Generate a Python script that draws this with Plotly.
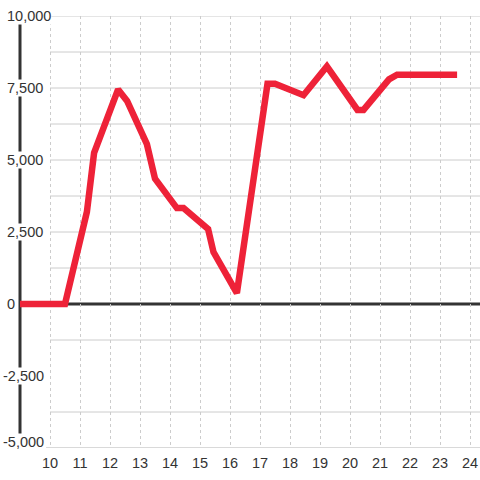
import plotly.graph_objects as go

x_vals = [9.0, 10.5, 11.23, 11.47, 12.27, 12.57, 13.23, 13.5, 14.23, 14.45, 15.27, 15.45,
          16.23, 17.25, 17.5, 18.33, 18.45, 19.23, 20.25, 20.45, 21.3, 21.57, 23.57]
y_vals = [0, 0, 3200, 5250, 7450, 7050, 5550, 4350, 3330, 3330, 2600, 1800,
          380, 7650, 7650, 7250, 7250, 8250, 6740, 6740, 7800, 7960, 7960]

x_ticks = list(range(10, 25))
y_ticks = [-5000, -2500, 0, 2500, 5000, 7500, 10000]
y_labels = ["-5,000", "-2,500", "0", "2,500", "5,000", "7,500", "10,000"]
y_grid = [-3750, -1250, 1250, 2500, 3750, 5000, 6250, 7500, 8750, 10000]

X_MIN, X_MAX = 9.0, 24.3333
Y_MIN, Y_MAX = -5000, 10000

FONT = "Liberation Sans, Arial, sans-serif"
TXT = "#333333"
GRID = "#cccccc"

fig = go.Figure()
fig.add_trace(go.Scatter(x=x_vals, y=y_vals, mode="lines",
                         line=dict(color="#ee2238", width=6.5),
                         hoverinfo="skip", showlegend=False))

shapes = []
for g in y_grid:
    shapes.append(dict(type="line", xref="x", yref="y", x0=10, x1=X_MAX, y0=g, y1=g,
                       line=dict(color=GRID, width=1), layer="below"))
# bottom line
shapes.append(dict(type="line", xref="x", yref="y", x0=9.87, x1=X_MAX, y0=Y_MIN, y1=Y_MIN,
                   line=dict(color=GRID, width=1.5), layer="below"))
# zero line
shapes.append(dict(type="line", xref="paper", yref="y", x0=0, x1=1, y0=0, y1=0,
                   line=dict(color=TXT, width=3), layer="below"))
# left axis line
shapes.append(dict(type="line", xref="paper", yref="y", x0=0, x1=0, y0=Y_MIN, y1=Y_MAX,
                   line=dict(color=TXT, width=3), layer="below"))

annotations = []
for v, lab in zip(y_ticks, y_labels):
    px = 2 if lab.startswith("-") else 6
    annotations.append(dict(
        xref="paper", yref="y", x=(px - 20) / 460.0, y=v, text=lab, showarrow=False,
        xanchor="left", yanchor="middle", yshift=6 if v == Y_MIN else 0,
        font=dict(family=FONT, size=14.5, color=TXT),
        bgcolor="white", borderpad=0))

fig.update_layout(
    width=480, height=480,
    margin=dict(l=20, r=0, t=16, b=32),
    paper_bgcolor="white", plot_bgcolor="white",
    shapes=shapes, annotations=annotations,
    xaxis=dict(range=[X_MIN, X_MAX], tickvals=x_ticks, ticktext=[str(t) for t in x_ticks],
               showgrid=True, gridcolor=GRID, griddash="3px,3px", gridwidth=1,
               zeroline=False, showline=False, ticks="", ticklabelstandoff=4,
               automargin=False,
               tickfont=dict(family=FONT, size=14.5, color=TXT)),
    yaxis=dict(range=[Y_MIN, Y_MAX], showgrid=False, zeroline=False, showline=False,
               showticklabels=False, ticks="", automargin=False),
)

fig.write_html("out.html", config={"displayModeBar": False},
               post_script="document.body.style.margin='0';document.body.style.padding='0';")
